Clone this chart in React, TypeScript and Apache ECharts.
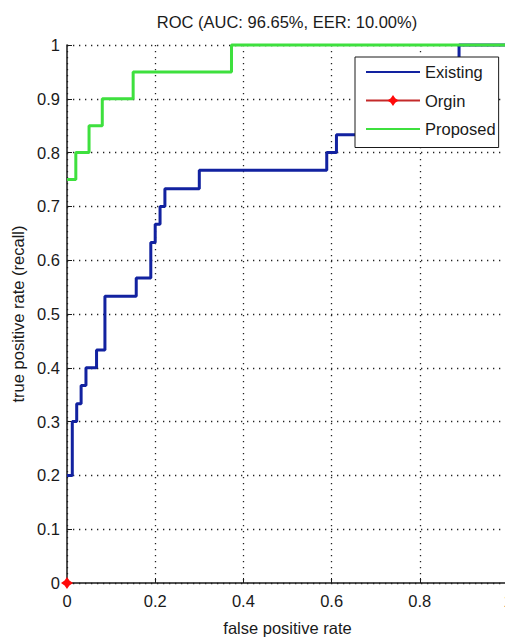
import React, { useEffect, useRef } from "react";
import * as echarts from "echarts";

const titleText = "ROC (AUC: 96.65%, EER: 10.00%)";
const xName = "false positive rate";
const yName = "true positive rate (recall)";
const seriesNames = ["Existing", "Orgin", "Proposed"];

// Existing: step points (fpr where tpr jumps, tpr after jump)
const existingFpr = [0, 0.012, 0.022, 0.032, 0.043, 0.067, 0.086, 0.157, 0.19, 0.2, 0.211, 0.222, 0.3, 0.589, 0.611, 0.7, 0.75, 0.8, 0.85, 0.889, 1];
const existingTpr = [0.2, 0.3, 0.333, 0.367, 0.4, 0.433, 0.533, 0.567, 0.633, 0.667, 0.7, 0.733, 0.767, 0.8, 0.833, 0.867, 0.9, 0.933, 0.967, 1, 1];

const originFpr = [0];
const originTpr = [0];

const proposedFpr = [0, 0.02, 0.05, 0.08, 0.15, 0.373, 1];
const proposedTpr = [0.75, 0.8, 0.85, 0.9, 0.95, 1, 1];

const FONT = "'Liberation Sans', Arial, sans-serif";
const FS = 16.5;

const zip = (xs: number[], ys: number[]) => xs.map((x, i) => [x, ys[i]]);

export default function App() {
  const ref = useRef<HTMLDivElement>(null);
  useEffect(() => {
    const chart = echarts.init(ref.current!, null, { renderer: "svg" });
    const axisCommon = {
      type: "value" as const,
      min: 0,
      max: 1,
      axisLine: { show: true, lineStyle: { color: "#1a1a1a", width: 1.5 } },
      axisTick: { show: true, inside: true, length: 5, lineStyle: { color: "#1a1a1a", width: 1 } },
      axisLabel: { fontSize: FS, fontFamily: FONT, color: "#1a1a1a" },
      splitLine: { show: true, lineStyle: { color: "#222", type: [1.3, 4.7], width: 1.3 } },
      nameLocation: "middle" as const,
      nameTextStyle: { fontSize: FS, fontFamily: FONT, color: "#1a1a1a" },
    };
    chart.setOption({
      animation: false,
      backgroundColor: "#fff",
      title: {
        text: titleText,
        left: "center",
        top: 13,
        padding: 0,
        textStyle: { fontSize: FS, fontFamily: FONT, fontWeight: "normal", color: "#1a1a1a" },
      },
      grid: { left: 67, top: 45, width: 441, height: 538, outerBoundsMode: "none", containLabel: false },
      xAxis: {
        ...axisCommon,
        interval: 0.2,
        axisLabel: { ...axisCommon.axisLabel, margin: 9 },
        name: xName,
        nameGap: 36,
      },
      yAxis: {
        ...axisCommon,
        interval: 0.1,
        axisLabel: { ...axisCommon.axisLabel, margin: 7 },
        name: yName,
        nameGap: 40,
      },
      legend: {
        data: [
          { name: seriesNames[0], itemStyle: { opacity: 0 } },
          { name: seriesNames[1] },
          { name: seriesNames[2], itemStyle: { opacity: 0 } },
        ],
        orient: "vertical",
        left: 355,
        top: 57,
        z: 10,
        itemWidth: 54,
        itemHeight: 14,
        itemGap: 11.5,
        padding: [6.5, 3, 10, 10],
        width: 140,
        backgroundColor: "#fff",
        borderColor: "#1a1a1a",
        borderWidth: 1,
        borderRadius: 0,
        selectedMode: false,
        textStyle: { fontSize: FS, fontFamily: FONT, color: "#1a1a1a" },
      },
      series: [
        {
          name: seriesNames[0],
          type: "line",
          step: "end",
          data: zip(existingFpr, existingTpr),
          symbol: "none",
          clip: false,
          lineStyle: { color: "#1222a0", width: 3 },
          itemStyle: { color: "#1222a0" },
        },
        {
          name: seriesNames[1],
          type: "line",
          data: zip(originFpr, originTpr),
          symbol: "path://M0,-6 L2.4,-2.4 L6,0 L2.4,2.4 L0,6 L-2.4,2.4 L-6,0 L-2.4,-2.4 Z",
          symbolSize: 12,
          clip: false,
          lineStyle: { color: "#c42a2a", width: 3 },
          itemStyle: { color: "#ff0a0a" },
        },
        {
          name: seriesNames[2],
          type: "line",
          step: "end",
          data: zip(proposedFpr, proposedTpr),
          symbol: "none",
          clip: false,
          lineStyle: { color: "#3ee03e", width: 3 },
          itemStyle: { color: "#3ee03e" },
        },
      ],
    });
    return () => chart.dispose();
  }, []);
  return (
    <div
      style={{
        position: "absolute",
        left: 0,
        top: 0,
        width: 505,
        height: 637,
        overflow: "hidden",
        background: "#fff",
      }}
    >
      <div ref={ref} style={{ width: 574, height: 637 }} />
    </div>
  );
}
